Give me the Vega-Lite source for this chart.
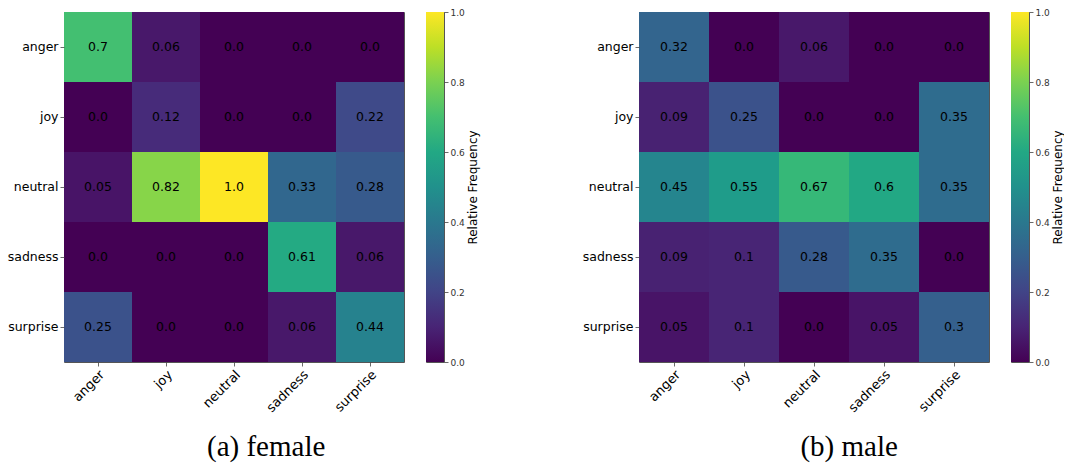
{
  "$schema": "https://vega.github.io/schema/vega-lite/v6.json",
  "padding": {"left": 5, "top": 7, "right": 0, "bottom": 0},
  "config": {
    "font": "DejaVu Sans",
    "view": {"stroke": "#555", "strokeWidth": 1},
    "axis": {"labelFont": "DejaVu Sans", "labelFontSize": 12.5, "labelColor": "#000", "tickColor": "#444", "tickSize": 4, "tickWidth": 0.8, "labelPadding": 2, "domain": false, "grid": false, "title": null}
  },
  "datasets": {
    "female": [
      {"actual": "anger", "pred": "anger", "v": 0.7, "t": "0.7"},
      {"actual": "anger", "pred": "joy", "v": 0.06, "t": "0.06"},
      {"actual": "anger", "pred": "neutral", "v": 0.0, "t": "0.0"},
      {"actual": "anger", "pred": "sadness", "v": 0.0, "t": "0.0"},
      {"actual": "anger", "pred": "surprise", "v": 0.0, "t": "0.0"},
      {"actual": "joy", "pred": "anger", "v": 0.0, "t": "0.0"},
      {"actual": "joy", "pred": "joy", "v": 0.12, "t": "0.12"},
      {"actual": "joy", "pred": "neutral", "v": 0.0, "t": "0.0"},
      {"actual": "joy", "pred": "sadness", "v": 0.0, "t": "0.0"},
      {"actual": "joy", "pred": "surprise", "v": 0.22, "t": "0.22"},
      {"actual": "neutral", "pred": "anger", "v": 0.05, "t": "0.05"},
      {"actual": "neutral", "pred": "joy", "v": 0.82, "t": "0.82"},
      {"actual": "neutral", "pred": "neutral", "v": 1.0, "t": "1.0"},
      {"actual": "neutral", "pred": "sadness", "v": 0.33, "t": "0.33"},
      {"actual": "neutral", "pred": "surprise", "v": 0.28, "t": "0.28"},
      {"actual": "sadness", "pred": "anger", "v": 0.0, "t": "0.0"},
      {"actual": "sadness", "pred": "joy", "v": 0.0, "t": "0.0"},
      {"actual": "sadness", "pred": "neutral", "v": 0.0, "t": "0.0"},
      {"actual": "sadness", "pred": "sadness", "v": 0.61, "t": "0.61"},
      {"actual": "sadness", "pred": "surprise", "v": 0.06, "t": "0.06"},
      {"actual": "surprise", "pred": "anger", "v": 0.25, "t": "0.25"},
      {"actual": "surprise", "pred": "joy", "v": 0.0, "t": "0.0"},
      {"actual": "surprise", "pred": "neutral", "v": 0.0, "t": "0.0"},
      {"actual": "surprise", "pred": "sadness", "v": 0.06, "t": "0.06"},
      {"actual": "surprise", "pred": "surprise", "v": 0.44, "t": "0.44"}
    ],
    "male": [
      {"actual": "anger", "pred": "anger", "v": 0.32, "t": "0.32"},
      {"actual": "anger", "pred": "joy", "v": 0.0, "t": "0.0"},
      {"actual": "anger", "pred": "neutral", "v": 0.06, "t": "0.06"},
      {"actual": "anger", "pred": "sadness", "v": 0.0, "t": "0.0"},
      {"actual": "anger", "pred": "surprise", "v": 0.0, "t": "0.0"},
      {"actual": "joy", "pred": "anger", "v": 0.09, "t": "0.09"},
      {"actual": "joy", "pred": "joy", "v": 0.25, "t": "0.25"},
      {"actual": "joy", "pred": "neutral", "v": 0.0, "t": "0.0"},
      {"actual": "joy", "pred": "sadness", "v": 0.0, "t": "0.0"},
      {"actual": "joy", "pred": "surprise", "v": 0.35, "t": "0.35"},
      {"actual": "neutral", "pred": "anger", "v": 0.45, "t": "0.45"},
      {"actual": "neutral", "pred": "joy", "v": 0.55, "t": "0.55"},
      {"actual": "neutral", "pred": "neutral", "v": 0.67, "t": "0.67"},
      {"actual": "neutral", "pred": "sadness", "v": 0.6, "t": "0.6"},
      {"actual": "neutral", "pred": "surprise", "v": 0.35, "t": "0.35"},
      {"actual": "sadness", "pred": "anger", "v": 0.09, "t": "0.09"},
      {"actual": "sadness", "pred": "joy", "v": 0.1, "t": "0.1"},
      {"actual": "sadness", "pred": "neutral", "v": 0.28, "t": "0.28"},
      {"actual": "sadness", "pred": "sadness", "v": 0.35, "t": "0.35"},
      {"actual": "sadness", "pred": "surprise", "v": 0.0, "t": "0.0"},
      {"actual": "surprise", "pred": "anger", "v": 0.05, "t": "0.05"},
      {"actual": "surprise", "pred": "joy", "v": 0.1, "t": "0.1"},
      {"actual": "surprise", "pred": "neutral", "v": 0.0, "t": "0.0"},
      {"actual": "surprise", "pred": "sadness", "v": 0.05, "t": "0.05"},
      {"actual": "surprise", "pred": "surprise", "v": 0.3, "t": "0.3"}
    ],
    "bar": [{"lo": 0, "hi": 1}]
  },
  "spacing": 101,
  "hconcat": [
    {
      "spacing": 20,
      "title": {"text": "(a) female", "orient": "bottom", "font": "Liberation Serif", "fontSize": 29, "fontWeight": "normal", "color": "#000", "anchor": "middle", "dx": 24, "offset": 18},
      "resolve": {"scale": {"x": "independent", "y": "independent"}},
      "hconcat": [
        {
          "data": {"name": "female"},
          "width": 340,
          "height": 350,
          "encoding": {
            "x": {"field": "pred", "type": "nominal", "sort": ["anger", "joy", "neutral", "sadness", "surprise"], "scale": {"paddingInner": 0, "paddingOuter": 0}, "axis": {"labelAngle": -45, "labelAlign": "right", "labelBaseline": "top", "labelFontSize": 13}},
            "y": {"field": "actual", "type": "nominal", "sort": ["anger", "joy", "neutral", "sadness", "surprise"], "scale": {"paddingInner": 0, "paddingOuter": 0}, "axis": {"minExtent": 58, "maxExtent": 58}}
          },
          "layer": [
            {"mark": {"type": "rect"}, "encoding": {"color": {"field": "v", "type": "quantitative", "scale": {"scheme": "viridis", "domain": [0, 1]}, "legend": null}}},
            {"mark": {"type": "text", "fontSize": 12.5, "color": "#000", "font": "DejaVu Sans"}, "encoding": {"text": {"field": "t", "type": "nominal"}}}
          ]
        },
        {
          "data": {"name": "bar"},
          "width": 18,
          "height": 350,
          "mark": {"type": "rect", "color": {"gradient": "linear", "x1": 0, "y1": 1, "x2": 0, "y2": 0, "stops": [
            {"offset": 0, "color": "#440154"}, {"offset": 0.1, "color": "#482475"}, {"offset": 0.2, "color": "#414487"}, {"offset": 0.3, "color": "#355f8d"}, {"offset": 0.4, "color": "#2a788e"}, {"offset": 0.5, "color": "#21918c"}, {"offset": 0.6, "color": "#22a884"}, {"offset": 0.7, "color": "#44bf70"}, {"offset": 0.8, "color": "#7ad151"}, {"offset": 0.9, "color": "#bddf26"}, {"offset": 1, "color": "#fde725"}]}},
          "encoding": {
            "y": {"field": "lo", "type": "quantitative", "scale": {"domain": [0, 1], "nice": false, "zero": false}, "axis": {"orient": "right", "values": [0, 0.2, 0.4, 0.6, 0.8, 1.0], "format": ".1f", "labelFontSize": 9, "labelColor": "#333", "labelFlush": false, "labelPadding": 2, "tickSize": 4, "title": "Relative Frequency", "titleAngle": 270, "titleBaseline": "top", "titleFontSize": 12, "titleFontWeight": "normal", "titleColor": "#000", "titlePadding": 3}},
            "y2": {"field": "hi"}
          }
        }
      ]
    },
    {
      "spacing": 20,
      "title": {"text": "(b) male", "orient": "bottom", "font": "Liberation Serif", "fontSize": 29, "fontWeight": "normal", "color": "#000", "anchor": "middle", "dx": 27, "offset": 18},
      "resolve": {"scale": {"x": "independent", "y": "independent"}},
      "hconcat": [
        {
          "data": {"name": "male"},
          "width": 350,
          "height": 350,
          "encoding": {
            "x": {"field": "pred", "type": "nominal", "sort": ["anger", "joy", "neutral", "sadness", "surprise"], "scale": {"paddingInner": 0, "paddingOuter": 0}, "axis": {"labelAngle": -45, "labelAlign": "right", "labelBaseline": "top", "labelFontSize": 13}},
            "y": {"field": "actual", "type": "nominal", "sort": ["anger", "joy", "neutral", "sadness", "surprise"], "scale": {"paddingInner": 0, "paddingOuter": 0}, "axis": {"minExtent": 58, "maxExtent": 58}}
          },
          "layer": [
            {"mark": {"type": "rect"}, "encoding": {"color": {"field": "v", "type": "quantitative", "scale": {"scheme": "viridis", "domain": [0, 1]}, "legend": null}}},
            {"mark": {"type": "text", "fontSize": 12.5, "color": "#000", "font": "DejaVu Sans"}, "encoding": {"text": {"field": "t", "type": "nominal"}}}
          ]
        },
        {
          "data": {"name": "bar"},
          "width": 18,
          "height": 350,
          "mark": {"type": "rect", "color": {"gradient": "linear", "x1": 0, "y1": 1, "x2": 0, "y2": 0, "stops": [
            {"offset": 0, "color": "#440154"}, {"offset": 0.1, "color": "#482475"}, {"offset": 0.2, "color": "#414487"}, {"offset": 0.3, "color": "#355f8d"}, {"offset": 0.4, "color": "#2a788e"}, {"offset": 0.5, "color": "#21918c"}, {"offset": 0.6, "color": "#22a884"}, {"offset": 0.7, "color": "#44bf70"}, {"offset": 0.8, "color": "#7ad151"}, {"offset": 0.9, "color": "#bddf26"}, {"offset": 1, "color": "#fde725"}]}},
          "encoding": {
            "y": {"field": "lo", "type": "quantitative", "scale": {"domain": [0, 1], "nice": false, "zero": false}, "axis": {"orient": "right", "values": [0, 0.2, 0.4, 0.6, 0.8, 1.0], "format": ".1f", "labelFontSize": 9, "labelColor": "#333", "labelFlush": false, "labelPadding": 2, "tickSize": 4, "title": "Relative Frequency", "titleAngle": 270, "titleBaseline": "top", "titleFontSize": 12, "titleFontWeight": "normal", "titleColor": "#000", "titlePadding": 3}},
            "y2": {"field": "hi"}
          }
        }
      ]
    }
  ]
}
